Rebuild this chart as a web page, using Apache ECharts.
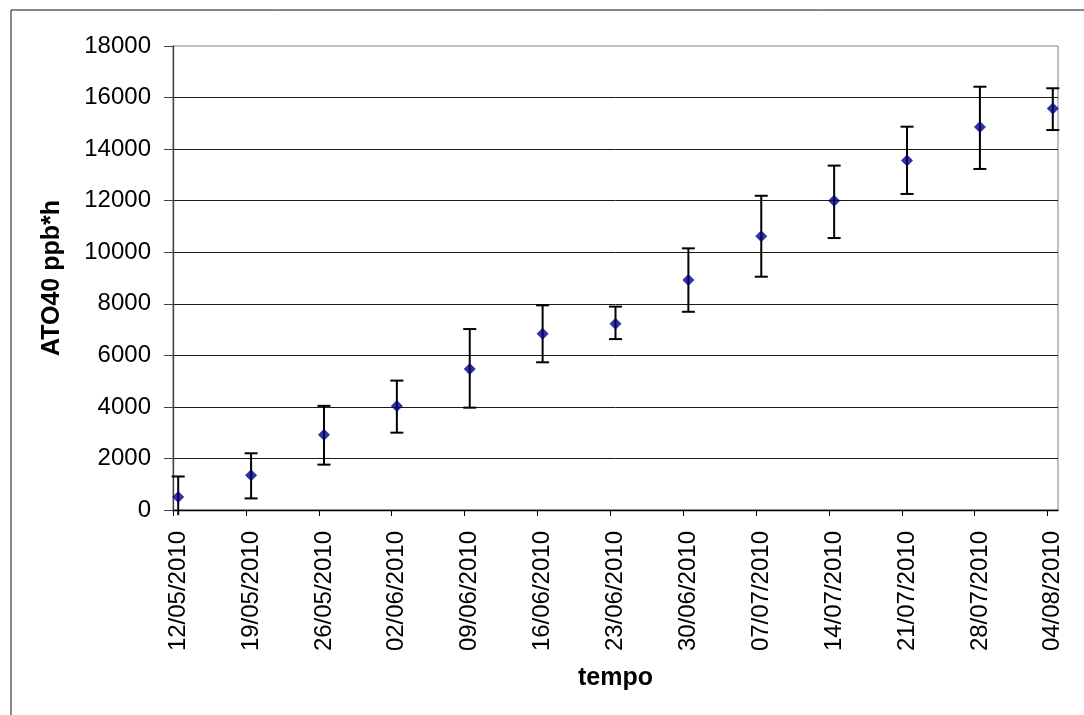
<!DOCTYPE html>
<html>
<head>
<meta charset="utf-8">
<title>ATO40</title>
<script src="https://cdn.jsdelivr.net/npm/echarts@6/dist/echarts.min.js"></script>
<style>
  html, body { margin: 0; padding: 0; background: #fff; }
  #chart { width: 1084px; height: 715px; }
</style>
</head>
<body>
<div id="chart"></div>
<script>
// Weekly sampling dates (dd/mm/yyyy), also used as the x tick labels
const dates = ['12/05/2010', '19/05/2010', '26/05/2010', '02/06/2010', '09/06/2010',
  '16/06/2010', '23/06/2010', '30/06/2010', '07/07/2010', '14/07/2010',
  '21/07/2010', '28/07/2010', '04/08/2010'];
// Cumulative AOT40 (ppb*h)
const ato40 = [500, 1350, 2920, 4030, 5470, 6840, 7230, 8920, 10620, 12000, 13560, 14860, 15580];
// Error bar ends
const errLow = [-200, 450, 1760, 3000, 3970, 5730, 6630, 7690, 9050, 10550, 12260, 13230, 14740];
const errHigh = [1300, 2200, 4040, 5020, 7020, 7940, 7890, 10150, 12190, 13360, 14870, 16420, 16360];
// Y axis range
const yMin = 0, yMax = 18000, yStep = 2000;

const FONT = '"Liberation Sans", Arial, sans-serif';

// Days since the first date; each date occupies one day slot, marks sit mid-slot
function toDay(s) {
  const [d, m, y] = s.split('/').map(Number);
  return Date.UTC(y, m - 1, d) / 86400000;
}
const day0 = toDay(dates[0]);
const dayIdx = dates.map(s => toDay(s) - day0);
const midDay = dayIdx.map(d => d + 0.5);
const xMax = dayIdx[dayIdx.length - 1] + 1;

const points = midDay.map((x, i) => [x, ato40[i]]);
const bars = midDay.map((x, i) => [x, errLow[i], errHigh[i]]);

const chart = echarts.init(document.getElementById('chart'), null, { renderer: 'canvas' });

chart.setOption({
  animation: false,
  backgroundColor: '#ffffff',
  graphic: [{
    type: 'rect',
    shape: { x: 11, y: 10, width: 1200, height: 800 },
    style: { fill: 'none', stroke: '#111', lineWidth: 1 },
    silent: true,
    z: -10
  }],
  grid: {
    left: 173, right: 26, top: 46, bottom: 205,
    show: true, borderColor: '#808080', borderWidth: 1,
    outerBoundsMode: 'none'
  },
  xAxis: {
    type: 'value',
    min: 0, max: xMax,
    name: 'tempo',
    nameLocation: 'middle',
    nameGap: 156,
    nameTextStyle: { fontFamily: FONT, fontSize: 25, fontWeight: 'bold', color: '#000' },
    axisLine: { show: true, onZero: false, lineStyle: { color: '#000', width: 1.3 } },
    axisTick: { show: true, length: 6, customValues: dayIdx, lineStyle: { color: '#000', width: 1 } },
    axisLabel: {
      customValues: midDay,
      rotate: 90,
      margin: 21,
      fontFamily: FONT, fontSize: 24, color: '#000',
      formatter: v => dates[Math.round(v - 0.5) / 7] || ''
    },
    splitLine: { show: false }
  },
  yAxis: {
    type: 'value',
    min: yMin, max: yMax, interval: yStep,
    name: 'ATO40 ppb*h',
    nameLocation: 'middle',
    nameRotate: 90,
    nameGap: 108,
    nameTextStyle: { fontFamily: FONT, fontSize: 25, fontWeight: 'bold', color: '#000' },
    axisLine: { show: true, lineStyle: { color: '#404040', width: 1.3 } },
    axisTick: { show: true, length: 9, lineStyle: { color: '#404040', width: 1 } },
    axisLabel: { margin: 22, fontFamily: FONT, fontSize: 24, color: '#000', formatter: v => String(v) },
    splitLine: { show: true, showMaxLine: false, lineStyle: { color: '#1a1a1a', width: 1 } }
  },
  series: [
    {
      type: 'custom',
      name: 'err',
      clip: false,
      z: 2,
      data: bars,
      renderItem: function (params, api) {
        const x = api.value(0);
        const lo = api.value(1), hi = api.value(2);
        const pLo = api.coord([x, lo]);
        const pHi = api.coord([x, hi]);
        const half = 6.5;
        const style = { stroke: '#000', lineWidth: 2 };
        const children = [
          { type: 'line', shape: { x1: pHi[0], y1: pHi[1], x2: pLo[0], y2: pLo[1] }, style },
          { type: 'line', shape: { x1: pHi[0] - half, y1: pHi[1], x2: pHi[0] + half, y2: pHi[1] }, style }
        ];
        if (lo >= yMin) {
          children.push({ type: 'line', shape: { x1: pLo[0] - half, y1: pLo[1], x2: pLo[0] + half, y2: pLo[1] }, style });
        }
        return { type: 'group', children };
      }
    },
    {
      type: 'scatter',
      name: 'ATO40',
      z: 3,
      symbol: 'diamond',
      symbolSize: [12, 12],
      itemStyle: { color: '#000080' },
      data: points
    }
  ]
});
</script>
</body>
</html>
